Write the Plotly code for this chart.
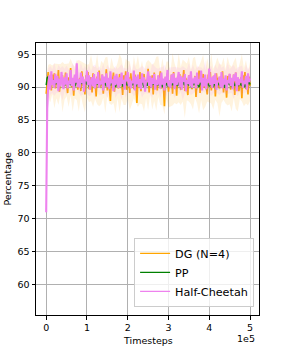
import plotly.graph_objects as go

# line series: one value every 2,500 timesteps
timesteps = list(range(0, 500001, 2500))
# shaded bands: one value every 5,000 timesteps
band_timesteps = list(range(0, 500001, 5000))

dg_mean = [89.0, 91.6, 92.3, 90.2, 91.4, 89.5, 91.9, 90.7, 92.1, 89.8,
           91.2, 90.4, 92.6, 89.3, 91.0, 90.6, 91.8, 89.9, 90.3, 92.2,
           90.8, 89.1, 91.5, 90.5, 92.9, 90.0, 91.3, 88.7, 91.7, 90.4,
           92.0, 89.6, 90.9, 91.4, 89.4, 92.4, 90.2, 91.1, 88.9, 91.8,
           90.6, 92.3, 89.7, 90.8, 91.5, 89.2, 92.1, 90.3, 91.0, 88.6,
           91.6, 90.7, 92.5, 89.9, 90.4, 91.9, 89.0, 91.2, 90.6, 92.7,
           89.5, 91.1, 90.0, 87.9, 91.4, 90.8, 92.2, 89.3, 91.7, 90.1,
           91.0, 89.8, 92.0, 90.5, 91.3, 88.8, 91.8, 90.2, 92.4, 89.6,
           90.9, 91.5, 89.1, 92.1, 90.4, 91.2, 89.7, 91.9, 90.7, 87.6,
           91.3, 90.0, 92.3, 89.4, 91.6, 90.6, 92.0, 89.9, 91.1, 90.3,
           92.8, 89.2, 91.4, 90.5, 91.8, 88.9, 92.2, 90.1, 91.0, 89.5,
           91.7, 90.8, 92.4, 89.8, 91.2, 90.3, 87.1, 91.5, 90.6, 92.1,
           89.3, 91.0, 90.4, 91.9, 89.0, 92.3, 90.7, 91.3, 88.7, 91.6,
           90.2, 92.0, 89.6, 91.1, 90.9, 92.6, 89.4, 91.4, 90.0, 88.8,
           91.8, 90.5, 92.2, 89.7, 91.2, 90.3, 91.7, 88.5, 91.0, 90.8,
           92.5, 89.1, 91.3, 90.6, 92.0, 89.9, 91.5, 90.2, 88.9, 91.9,
           90.4, 92.3, 89.5, 91.1, 90.7, 91.8, 88.6, 92.1, 90.0, 91.4,
           89.8, 91.6, 90.3, 92.4, 89.2, 91.0, 90.9, 88.4, 91.7, 90.5,
           92.0, 89.6, 91.3, 90.1, 91.9, 88.8, 92.2, 90.6, 91.2, 89.4,
           90.8, 91.5, 88.3, 91.8, 90.4, 92.3, 89.7, 91.1, 88.9, 91.6,
           90.2]
dg_sd = [1.8, 2.4, 2.9, 2.2, 3.4, 2.6, 3.1, 2.3, 3.8, 2.7,
         2.5, 3.3, 2.8, 3.6, 2.4, 3.0, 3.9, 2.6, 3.2, 3.7,
         2.5, 2.9, 3.5, 3.1, 2.4, 3.8, 2.7, 3.3, 2.6, 4.2,
         3.0, 2.5, 3.6, 2.8, 3.4, 2.7, 4.4, 3.1, 2.6, 3.5,
         2.9, 3.7, 2.4, 3.2, 2.8, 3.9, 2.6, 3.3, 3.0, 2.7,
         3.8, 2.5, 3.4, 2.9, 4.1, 3.1, 2.6, 3.6, 3.3, 2.8,
         3.5, 2.7, 4.0, 3.0, 2.6, 3.7, 2.9, 3.2, 4.3, 2.8,
         3.4, 2.6, 3.9, 3.1, 2.7, 3.6, 3.0, 4.2, 2.8, 3.3,
         2.6, 3.8, 3.1, 2.7, 3.5, 4.0, 2.9, 3.2, 2.6, 3.7,
         3.0, 3.4, 2.8, 3.9, 3.1, 2.7, 3.6, 2.9, 3.3, 2.6, 3.0]
dg_band_mean = [89.8, 91.0, 90.6, 91.1, 90.2, 90.9, 90.4, 91.2, 90.0, 90.8,
                91.1, 90.3, 91.5, 89.9, 90.7, 91.0, 90.2, 91.3, 90.5, 89.9,
                90.9, 90.6, 91.4, 90.1, 90.6, 91.2, 89.8, 90.7, 91.0, 90.3,
                91.6, 90.0, 90.9, 90.4, 89.4, 91.0, 90.6, 91.3, 89.9, 90.8,
                91.1, 90.2, 89.8, 91.5, 90.4, 90.9, 90.1, 90.7, 89.3, 91.0,
                90.3, 91.3, 90.0, 90.8, 90.5, 91.6, 89.9, 90.8, 89.2, 91.1,
                90.4, 89.7, 91.2, 90.6, 90.0, 91.4, 90.2, 91.0, 89.6, 90.8,
                91.2, 90.0, 90.5, 91.5, 90.2, 89.6, 91.0, 90.7, 89.8, 91.1,
                90.3, 91.3, 89.7, 90.8, 91.0, 89.5, 90.5, 91.3, 90.1, 90.9,
                90.4, 89.7, 91.1, 90.6, 89.4, 90.9, 91.4, 90.0, 90.8, 89.8, 90.9]

pp_mean = [90.3, 91.4, 91.6, 91.0, 90.7, 91.2, 90.5, 90.9, 91.1, 90.4,
           90.8, 90.6, 91.0, 90.3, 90.9, 90.7, 90.5, 91.1, 90.2, 90.8,
           90.6, 90.4, 90.9, 90.7, 90.3, 91.0, 90.5, 90.8, 90.1, 90.6,
           90.9, 90.4, 90.7, 90.2, 90.8, 90.5, 91.0, 90.3, 90.6, 90.9,
           90.4, 90.7, 90.1, 90.8, 90.5, 90.3, 90.9, 90.6, 90.2, 90.7,
           90.5, 90.8, 90.0, 90.6, 90.4, 90.9, 90.3, 90.7, 90.5, 90.1,
           90.8, 90.4, 90.6, 90.2, 90.9, 90.5, 90.3, 90.7, 90.0, 90.6,
           90.4, 90.8, 90.2, 90.5, 90.7, 90.1, 90.6, 90.3, 90.9, 90.4,
           90.2, 90.7, 90.5, 90.0, 90.6, 90.3, 90.8, 90.4, 90.1, 90.6,
           90.5, 90.2, 90.7, 90.3, 90.9, 90.4, 90.0, 90.6, 90.5, 90.2,
           90.7, 90.3, 90.5, 89.9, 90.6, 90.4, 90.8, 90.1, 90.5, 90.3,
           90.7, 90.2, 90.6, 90.4, 90.0, 90.5, 90.8, 90.3, 90.6, 90.1,
           90.4, 90.7, 90.2, 90.5, 90.3, 90.9, 90.1, 90.6, 90.4, 90.2,
           90.7, 90.5, 90.0, 90.6, 90.3, 90.8, 90.4, 90.1, 90.5, 90.7,
           90.2, 90.6, 90.3, 89.9, 90.5, 90.4, 90.8, 90.2, 90.6, 90.3,
           90.0, 90.5, 90.7, 90.1, 90.4, 90.6, 90.2, 90.8, 90.3, 90.5,
           90.1, 90.6, 90.4, 90.7, 90.0, 90.5, 90.3, 90.8, 90.2, 90.6,
           90.4, 90.1, 90.7, 90.3, 90.5, 89.9, 90.6, 90.2, 90.8, 90.4,
           90.3, 90.6, 90.0, 90.5, 90.7, 90.2, 90.4, 90.6, 90.1, 90.8,
           90.3, 90.5, 90.2, 90.7, 90.4, 90.0, 90.6, 90.3, 90.5, 90.8,
           90.4]
pp_sd = [0.9, 0.7, 0.6, 0.8, 0.5, 0.7, 0.6, 0.9, 0.5, 0.7,
         0.6, 0.8, 0.5, 0.7, 0.9, 0.6, 0.5, 0.8, 0.7, 0.6,
         0.9, 0.5, 0.7, 0.6, 0.8, 0.5, 0.7, 0.9, 0.6, 0.5,
         0.8, 0.7, 0.6, 0.9, 0.5, 0.7, 0.6, 0.8, 0.5, 0.7,
         0.9, 0.6, 0.5, 0.8, 0.7, 0.6, 0.9, 0.5, 0.7, 0.6,
         0.8, 0.5, 0.7, 0.9, 0.6, 0.5, 0.8, 0.7, 0.6, 0.9,
         0.5, 0.7, 0.6, 0.8, 0.5, 0.7, 0.9, 0.6, 0.5, 0.8,
         0.7, 0.6, 0.9, 0.5, 0.7, 0.6, 0.8, 0.5, 0.7, 0.9,
         0.6, 0.5, 0.8, 0.7, 0.6, 0.9, 0.5, 0.7, 0.6, 0.8,
         0.5, 0.7, 0.9, 0.6, 0.5, 0.8, 0.7, 0.6, 0.9, 0.5, 0.7]
pp_band_mean = [90.3, 91.2, 90.8, 90.7, 90.6, 90.5, 90.7, 90.6, 90.5, 90.6,
                90.5, 90.6, 90.5, 90.6, 90.6, 90.5, 90.6, 90.4, 90.6, 90.5,
                90.5, 90.6, 90.5, 90.4, 90.5, 90.4, 90.6, 90.5, 90.4, 90.6,
                90.5, 90.4, 90.5, 90.4, 90.6, 90.4, 90.5, 90.4, 90.6, 90.4,
                90.4, 90.5, 90.4, 90.5, 90.4, 90.6, 90.4, 90.4, 90.5, 90.4,
                90.5, 90.4, 90.3, 90.5, 90.4, 90.5, 90.4, 90.4, 90.6, 90.4,
                90.5, 90.3, 90.4, 90.6, 90.3, 90.5, 90.3, 90.5, 90.4, 90.5,
                90.4, 90.3, 90.5, 90.4, 90.2, 90.5, 90.3, 90.5, 90.4, 90.2,
                90.5, 90.4, 90.6, 90.3, 90.5, 90.3, 90.4, 90.6, 90.3, 90.5,
                90.2, 90.4, 90.3, 90.6, 90.5, 90.2, 90.5, 90.4, 90.6, 90.4, 90.5]

hc_mean = [71.0, 86.8, 90.2, 91.8, 89.6, 92.4, 90.3, 91.1, 89.9, 92.0,
           90.6, 91.7, 89.4, 91.3, 90.1, 92.3, 90.8, 89.7, 91.5, 90.4,
           92.1, 89.8, 91.0, 90.5, 92.6, 90.2, 91.4, 89.5, 91.9, 90.7,
           93.6, 90.0, 91.2, 89.9, 92.2, 90.6, 91.6, 89.3, 91.1, 90.9,
           92.5, 90.3, 91.8, 89.6, 90.8, 91.5, 90.1, 92.0, 89.8, 91.3,
           90.5, 92.3, 89.9, 91.0, 90.4, 91.9, 89.5, 91.6, 90.7, 92.1,
           90.0, 91.4, 89.7, 92.4, 90.6, 91.2, 89.4, 91.7, 90.3, 92.0,
           90.8, 89.9, 91.5, 90.2, 92.2, 90.5, 91.1, 89.6, 91.8, 90.9,
           92.3, 90.1, 91.3, 89.8, 91.0, 90.6, 92.5, 89.5, 91.6, 90.4,
           91.9, 90.0, 91.2, 89.7, 92.1, 90.7, 91.5, 89.3, 91.0, 90.8,
           92.4, 90.2, 91.7, 89.9, 91.4, 90.5, 92.0, 89.6, 91.1, 90.3,
           91.8, 90.9, 89.8, 92.2, 90.4, 91.3, 89.5, 91.6, 90.7, 92.6,
           90.1, 91.0, 89.9, 91.9, 90.6, 92.1, 89.7, 91.4, 90.3, 91.2,
           92.3, 90.0, 91.7, 89.6, 91.5, 90.8, 92.0, 89.4, 91.1, 90.5,
           91.8, 90.2, 92.4, 89.9, 91.3, 90.6, 91.6, 89.8, 92.2, 90.4,
           91.0, 90.9, 92.5, 89.5, 91.4, 90.1, 91.9, 89.7, 91.2, 90.7,
           92.8, 90.3, 91.5, 89.9, 91.7, 90.5, 92.1, 89.6, 91.0, 90.8,
           91.6, 90.0, 92.3, 89.8, 91.3, 90.4, 91.8, 89.5, 91.1, 90.6,
           92.0, 90.2, 91.4, 89.7, 91.9, 90.9, 92.2, 89.4, 91.5, 90.3,
           91.2, 90.7, 92.4, 89.9, 91.0, 90.5, 91.7, 89.6, 92.1, 90.8,
           91.3]
hc_sd = [1.0, 3.0, 2.2, 1.8, 2.5, 1.6, 2.1, 1.9, 2.6, 1.7,
         2.3, 1.5, 2.0, 2.4, 1.8, 2.2, 1.6, 2.5, 1.9, 2.1,
         1.7, 2.4, 1.8, 2.0, 2.6, 1.6, 2.2, 1.9, 2.3, 1.7,
         2.5, 1.8, 2.1, 1.6, 2.4, 1.9, 2.0, 2.7, 1.7, 2.2,
         1.8, 2.3, 1.6, 2.5, 1.9, 2.1, 1.7, 2.4, 2.0, 1.8,
         2.2, 1.6, 2.6, 1.9, 2.1, 1.7, 2.3, 1.8, 2.5, 2.0,
         1.6, 2.2, 1.9, 2.4, 1.7, 2.1, 1.8, 2.6, 2.0, 1.7,
         2.3, 1.9, 2.2, 1.6, 2.5, 1.8, 2.1, 1.7, 2.4, 1.9,
         2.0, 2.3, 1.6, 2.2, 1.8, 2.5, 1.9, 2.1, 1.7, 2.4,
         1.8, 2.0, 2.6, 1.7, 2.2, 1.9, 2.3, 1.6, 2.1, 1.8, 2.0]
hc_band_mean = [71.0, 89.8, 91.0, 90.9, 91.2, 90.7, 91.3, 91.0, 90.6, 91.1,
                91.0, 91.2, 90.7, 91.3, 90.9, 92.0, 90.7, 91.2, 90.8, 91.1,
                90.9, 91.0, 90.6, 91.3, 90.8, 91.2, 91.0, 90.7, 91.3, 90.8,
                90.9, 91.1, 90.7, 91.2, 90.8, 90.9, 91.1, 90.8, 91.2, 90.6,
                91.0, 91.3, 90.7, 91.1, 90.9, 90.6, 91.3, 90.8, 91.0, 90.9,
                91.2, 90.6, 91.0, 91.3, 90.8, 91.1, 90.7, 91.2, 90.9, 90.7,
                91.3, 90.8, 91.1, 90.7, 91.3, 90.9, 91.1, 90.6, 91.0, 91.0,
                91.4, 90.7, 91.2, 90.9, 90.8, 91.2, 90.9, 91.0, 91.6, 90.8,
                91.1, 90.9, 90.7, 91.2, 90.9, 91.3, 91.0, 91.1, 90.7, 91.3,
                90.9, 91.1, 90.8, 91.0, 90.8, 91.2, 91.0, 90.7, 91.3, 90.9, 91.1]

x_tick_vals = [0, 100000, 200000, 300000, 400000, 500000]
x_tick_text = ["0", "1", "2", "3", "4", "5"]
y_tick_vals = [60, 65, 70, 75, 80, 85, 90, 95]

series = [
    ("DG (N=4)", dg_mean, dg_band_mean, dg_sd, "orange", "rgba(255,165,0,0.13)", 1.7),
    ("PP", pp_mean, pp_band_mean, pp_sd, "green", "rgba(0,128,0,0.10)", 1.5),
    ("Half-Cheetah", hc_mean, hc_band_mean, hc_sd, "violet", "rgba(238,130,238,0.13)", 2.1),
]

fig = go.Figure()
for name, mean, bmean, sd, color, fillc, lw in series:
    lower = [m - s for m, s in zip(bmean, sd)]
    upper = [m + s for m, s in zip(bmean, sd)]
    fig.add_trace(go.Scatter(x=band_timesteps, y=lower, mode="lines",
                             line=dict(width=0), showlegend=False, hoverinfo="skip"))
    fig.add_trace(go.Scatter(x=band_timesteps, y=upper, mode="lines", fill="tonexty",
                             fillcolor=fillc, line=dict(width=0),
                             showlegend=False, hoverinfo="skip"))
    fig.add_trace(go.Scatter(x=timesteps, y=mean, mode="lines", name=name,
                             line=dict(color=color, width=lw), showlegend=False))

# legend entries drawn with thin sample lines, as in the original
for name, _, _, _, color, _, _ in series:
    fig.add_trace(go.Scatter(x=[None], y=[None], mode="lines", name=name,
                             line=dict(color=color, width=1.2)))

font = "DejaVu Sans"
axis_common = dict(showline=True, linecolor="black", linewidth=1, mirror=True,
                   ticks="outside", ticklen=3.5, tickcolor="black", tickwidth=0.8,
                   showgrid=True, gridcolor="#b0b0b0", gridwidth=0.8,
                   zeroline=False, automargin=False,
                   tickfont=dict(family=font, size=9.5, color="black"))

fig.update_layout(
    width=288, height=360,
    margin=dict(l=36, r=29, t=43, b=45, autoexpand=False),
    paper_bgcolor="white", plot_bgcolor="white",
    font=dict(family=font, color="black"),
    showlegend=True,
    xaxis=dict(range=[-25000, 522000], tickvals=x_tick_vals, ticktext=x_tick_text,
               **axis_common),
    yaxis=dict(range=[55.4, 96.7], tickvals=y_tick_vals, **axis_common),
    legend=dict(x=0.978, y=0.03, xanchor="right", yanchor="bottom",
                traceorder="normal",
                bgcolor="rgba(255,255,255,0.8)", bordercolor="#cccccc", borderwidth=1,
                font=dict(family=font, size=11.2, color="black"), itemwidth=30,
                tracegroupgap=0),
    annotations=[
        dict(text="Timesteps", xref="paper", yref="paper", x=0.5, y=-0.092,
             showarrow=False, xanchor="center", yanchor="middle",
             font=dict(family=font, size=9.5, color="black")),
        dict(text="1e5", xref="paper", yref="paper", x=0.991, y=-0.088,
             showarrow=False, xanchor="right", yanchor="middle",
             font=dict(family=font, size=9.5, color="black")),
        dict(text="Percentage", xref="paper", yref="paper", x=-0.132, y=0.5,
             showarrow=False, textangle=-90, xanchor="center", yanchor="middle",
             font=dict(family=font, size=9.5, color="black")),
    ],
)

fig.write_html("out.html", config={"displayModeBar": False},
               post_script="document.body.style.margin='0';document.body.style.padding='0';")
